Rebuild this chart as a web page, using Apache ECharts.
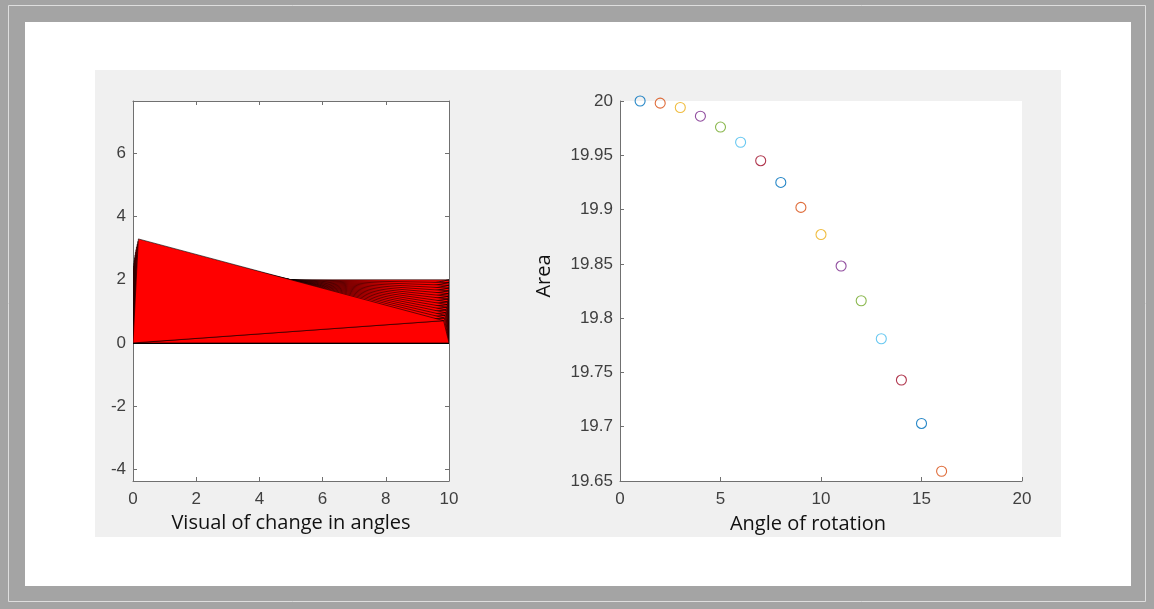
<!DOCTYPE html>
<html>
<head>
<meta charset="utf-8">
<script src="https://cdn.jsdelivr.net/npm/echarts@6/dist/echarts.min.js"></script>
<style>
html,body{margin:0;padding:0;background:#a4a4a4;}
#chart{width:1154px;height:609px;}
</style>
</head>
<body>
<div id="chart"></div>
<script>
// ---- Left plot: rotated-top quadrilaterals (bottom edge fixed from (0,0) to (10,0)) ----
const baseLeft = [0, 0];
const baseRight = [10, 0];
const topLeftX  = [0.000, 0.001, 0.003, 0.007, 0.012, 0.019, 0.027, 0.037, 0.049, 0.062, 0.076, 0.092, 0.109, 0.128, 0.149, 0.170];
const topLeftY  = [2.000, 2.087, 2.175, 2.262, 2.349, 2.436, 2.523, 2.609, 2.696, 2.782, 2.868, 2.954, 3.040, 3.125, 3.210, 3.294];
const topRightX = [10.000, 9.999, 9.997, 9.993, 9.988, 9.981, 9.973, 9.963, 9.951, 9.938, 9.924, 9.908, 9.891, 9.872, 9.851, 9.830];
const topRightY = [2.000, 1.913, 1.826, 1.738, 1.651, 1.564, 1.477, 1.391, 1.304, 1.218, 1.132, 1.046, 0.960, 0.875, 0.790, 0.706];
const leftXTicks = [0, 2, 4, 6, 8, 10];
const leftYTicks = [-4, -2, 0, 2, 4, 6];

// ---- Right plot: area vs angle of rotation ----
const angles = [1, 2, 3, 4, 5, 6, 7, 8, 9, 10, 11, 12, 13, 14, 15, 16];
const areas  = [20.000, 19.998, 19.994, 19.986, 19.976, 19.962, 19.945, 19.925, 19.902, 19.877, 19.848, 19.816, 19.781, 19.743, 19.703, 19.659];
const rightYTicks = [19.65, 19.7, 19.75, 19.8, 19.85, 19.9, 19.95, 20];
const colorOrder = ['#0072BD', '#D95319', '#EDB120', '#7E2F8E', '#77AC30', '#4DBEEE', '#A2142F'];

const axisCol = '#707070';
const labelCol = '#3f3f3f';
const tickFont = {fontFamily: 'Liberation Sans', fontSize: 17, color: labelCol};
const titleFont = {fontFamily: 'Open Sans', fontSize: 20, color: '#111'};

const chart = echarts.init(document.getElementById('chart'), null, {renderer: 'canvas'});

function lineStyle() { return {color: axisCol, width: 1}; }

const option = {
  backgroundColor: 'transparent',
  animation: false,
  graphic: [
    {type: 'rect', z: -10, shape: {x: 8.5, y: 5.5, width: 1137, height: 596}, style: {fill: 'none', stroke: '#dedede', lineWidth: 1}},
    {type: 'rect', z: -10, shape: {x: 25, y: 22, width: 1106, height: 564}, style: {fill: '#ffffff'}},
    {type: 'rect', z: -9, shape: {x: 95, y: 70, width: 966, height: 467}, style: {fill: '#f0f0f0'}}
  ],
  grid: [
    {left: 133, top: 101, width: 316, height: 380, show: true, backgroundColor: '#ffffff', borderWidth: 0},
    {left: 620, top: 101, width: 402, height: 380, show: true, backgroundColor: '#ffffff', borderWidth: 0}
  ],
  xAxis: [
    {gridIndex: 0, type: 'value', min: 0, max: 10, interval: 2, position: 'bottom',
     name: 'Visual of change in angles', nameLocation: 'middle', nameGap: 31, nameTextStyle: titleFont,
     axisLine: {show: true, onZero: false, lineStyle: lineStyle()},
     axisTick: {show: true, inside: true, length: 4, lineStyle: lineStyle()},
     axisLabel: Object.assign({margin: 10}, tickFont),
     splitLine: {show: false}},
    {gridIndex: 0, type: 'value', min: 0, max: 10, interval: 2, position: 'top',
     axisLine: {show: true, onZero: false, lineStyle: lineStyle()},
     axisTick: {show: true, inside: true, length: 4, lineStyle: lineStyle()},
     axisLabel: {show: false}, splitLine: {show: false}},
    {gridIndex: 1, type: 'value', min: 0, max: 20, interval: 5, position: 'bottom',
     name: 'Angle of rotation', nameLocation: 'middle', nameGap: 33,
     nameTextStyle: Object.assign({padding: [0, 26, 0, 0]}, titleFont),
     axisLine: {show: true, onZero: false, lineStyle: lineStyle()},
     axisTick: {show: true, inside: true, length: 4, lineStyle: lineStyle()},
     axisLabel: Object.assign({margin: 10}, tickFont),
     splitLine: {show: false}}
  ],
  yAxis: [
    {gridIndex: 0, type: 'value', min: -4.37, max: 7.66, position: 'left',
     axisLine: {show: true, onZero: false, lineStyle: lineStyle()},
     axisTick: {show: true, inside: true, length: 4, customValues: leftYTicks, lineStyle: lineStyle()},
     axisLabel: Object.assign({margin: 7, customValues: leftYTicks}, tickFont),
     splitLine: {show: false}},
    {gridIndex: 0, type: 'value', min: -4.37, max: 7.66, position: 'right',
     axisLine: {show: true, onZero: false, lineStyle: lineStyle()},
     axisTick: {show: true, inside: true, length: 4, customValues: leftYTicks, lineStyle: lineStyle()},
     axisLabel: {show: false}, splitLine: {show: false}},
    {gridIndex: 1, type: 'value', min: 19.65, max: 20, position: 'left',
     name: 'Area', nameLocation: 'middle', nameRotate: 90, nameGap: 66,
     nameTextStyle: Object.assign({padding: [0, 0, 0, 30]}, titleFont),
     axisLine: {show: true, onZero: false, lineStyle: lineStyle()},
     axisTick: {show: true, inside: true, length: 4, customValues: rightYTicks, lineStyle: lineStyle()},
     axisLabel: Object.assign({margin: 7, customValues: rightYTicks,
       formatter: v => String(+(+v).toFixed(2))}, tickFont),
     splitLine: {show: false}}
  ],
  series: [
    {
      type: 'custom', xAxisIndex: 0, yAxisIndex: 0, clip: true,
      data: topLeftX.map((_, i) => [i]),
      dimensions: ['idx'],
      encode: {x: -1, y: -1},
      renderItem: function (params, api) {
        const i = api.value(0);
        const A = api.coord(baseLeft);
        const B = api.coord(baseRight);
        const C = api.coord([topRightX[i], topRightY[i]]);
        const D = api.coord([topLeftX[i], topLeftY[i]]);
        const st = {fill: '#ff0000', stroke: '#000000', lineWidth: 0.6};
        return {type: 'group', children: [
          {type: 'polygon', shape: {points: [A, B, C]}, style: st},
          {type: 'polygon', shape: {points: [A, C, D]}, style: st}
        ]};
      }
    },
    {
      type: 'scatter', xAxisIndex: 2, yAxisIndex: 2,
      symbol: 'circle', symbolSize: 10,
      data: angles.map((a, i) => ({
        value: [a, areas[i]],
        itemStyle: {color: 'rgba(255,255,255,0)', borderColor: colorOrder[i % colorOrder.length], borderWidth: 1.1, opacity: 0.85}
      }))
    }
  ]
};
chart.setOption(option);
</script>
</body>
</html>
